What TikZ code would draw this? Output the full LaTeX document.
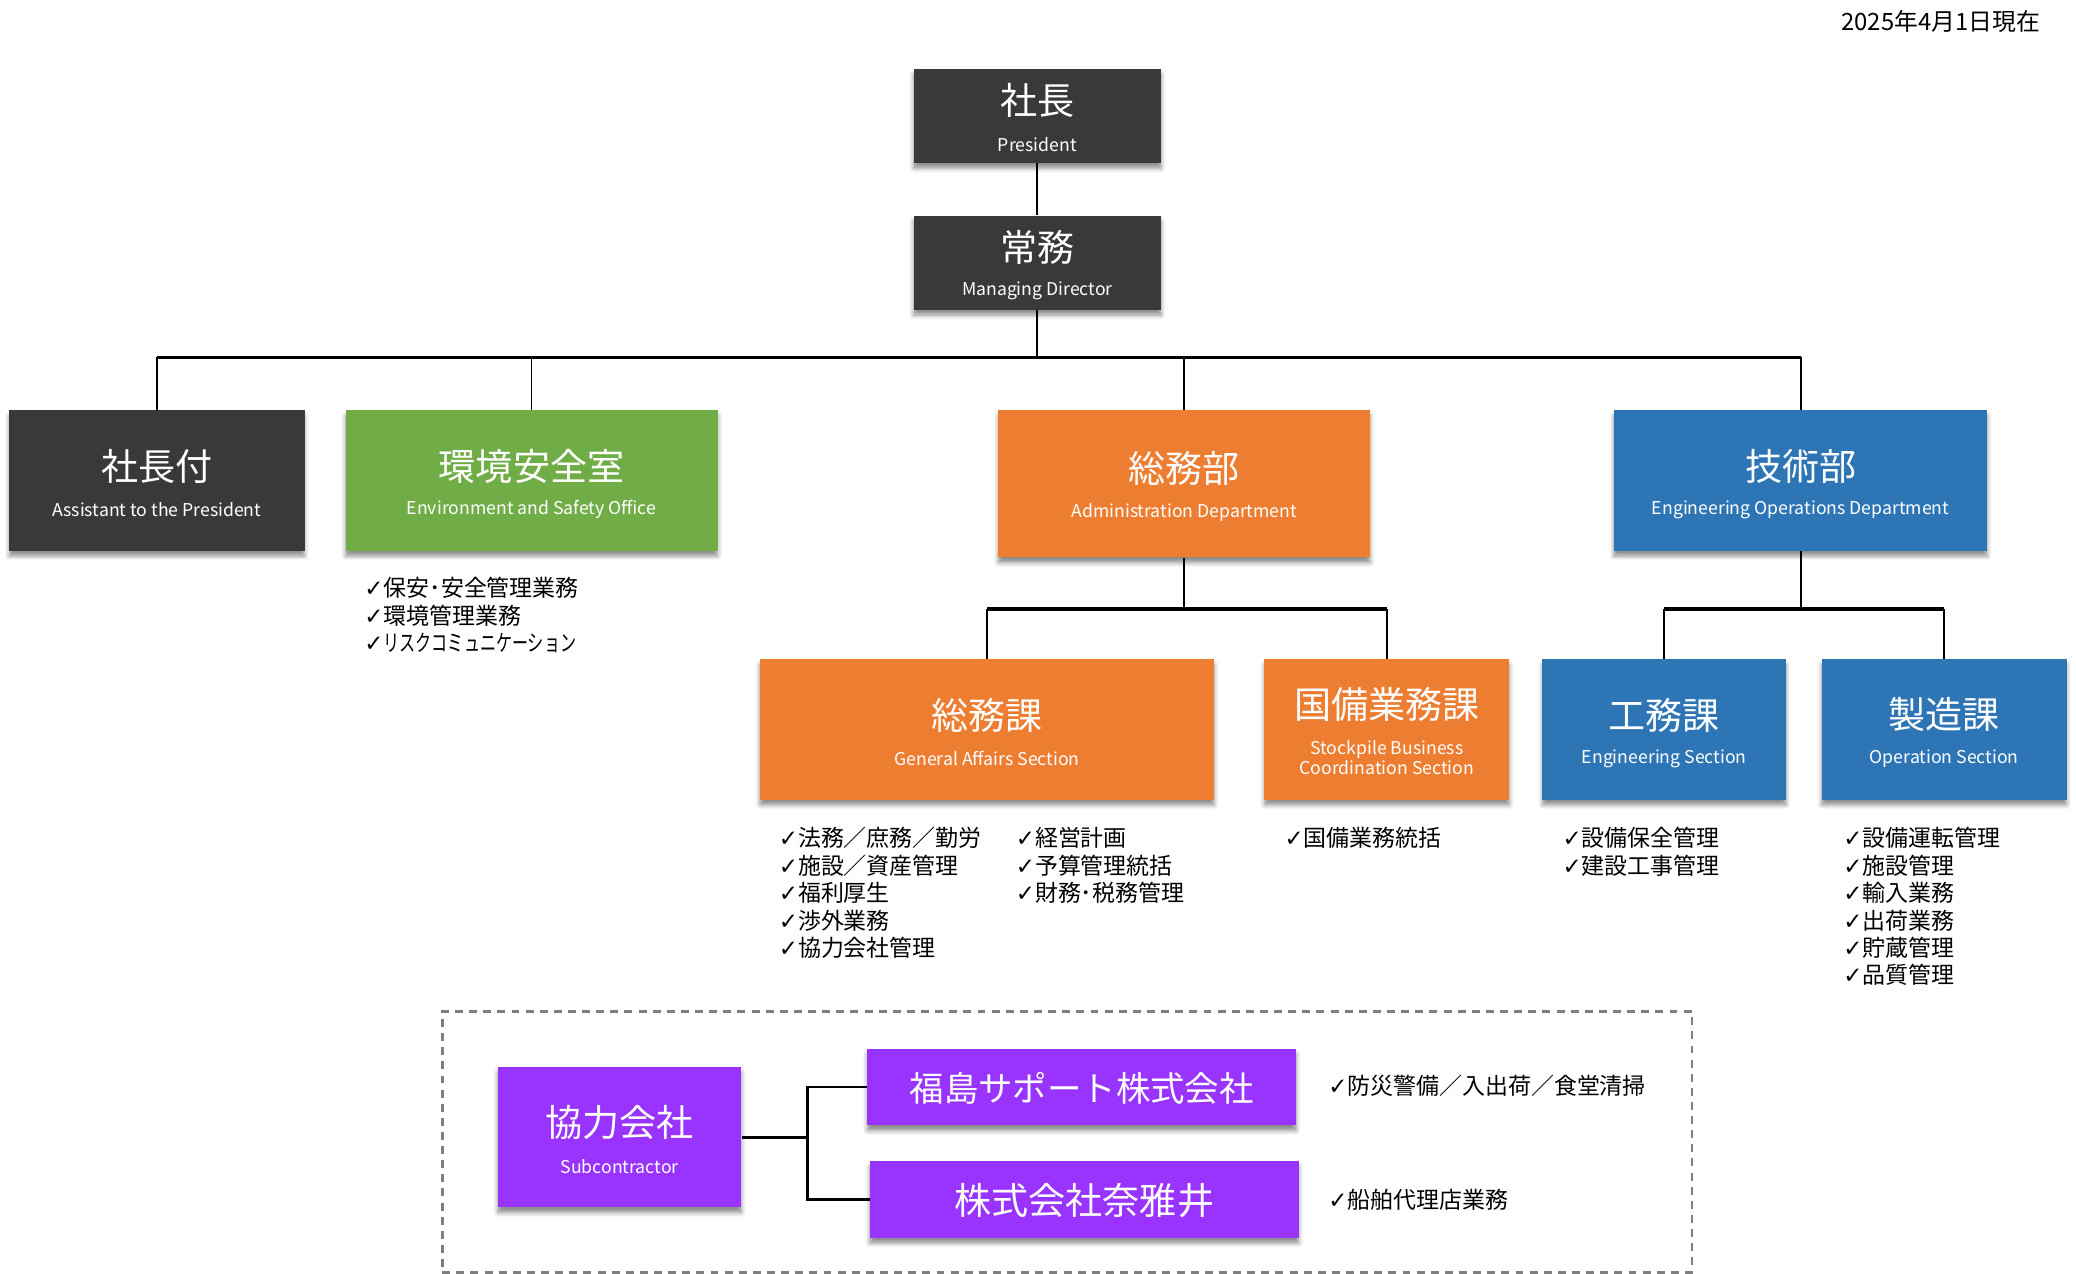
\documentclass[tikz,border=0pt]{standalone}
\usepackage{fontspec}
\usepackage{graphicx}
\setmainfont{Noto Sans CJK JP}
\newfontfamily\chkfont{DejaVu Sans}
\usetikzlibrary{shadows.blur}
\definecolor{cdark}{HTML}{3B3838}
\definecolor{cgreen}{HTML}{70AD47}
\definecolor{corange}{HTML}{ED7D31}
\definecolor{cblue}{HTML}{2E75B6}
\definecolor{cpurple}{HTML}{9933FF}
\definecolor{cframe}{HTML}{7F7F7F}
\newcommand\ckm{{\chkfont ✓}}
\tikzset{
  orgbox/.style={rectangle, inner sep=0pt, draw=none,
    blur shadow={shadow xshift=0pt, shadow yshift=-3pt, shadow blur radius=2.5pt, shadow opacity=45}},
  sz/.style 2 args={minimum width=#1*0.75pt, minimum height=#2*0.75pt},
  biglabel/.style={text=white, inner sep=0pt, font=\fontsize{21}{25}\selectfont},
  midlabel/.style={text=white, inner sep=0pt, font=\fontsize{19.5}{23}\selectfont},
  englabel/.style={text=white, inner sep=0pt, align=center, font=\fontsize{10}{11.25}\selectfont},
  item/.style={anchor=west, inner sep=0pt, font=\fontsize{13}{15}\selectfont},
  conn/.style={line width=1pt, black},
  busline/.style={line width=2pt, black},
  frameline/.style={draw=cframe, line width=1.5pt, dash pattern=on 4.5pt off 3.5pt}
}
\begin{document}
\begin{tikzpicture}[x=0.75pt,y=-0.75pt]
\useasboundingbox (0,0) rectangle (1568,962.2);

% date
\node[anchor=east, inner sep=0pt, font=\fontsize{13.5}{16}\selectfont] (date) at (1541,16) {2025年4月1日現在};

% boxes
\node[orgbox, fill=cdark, sz={187}{71}] (pres) at (783.5,87.5) {};
\node[orgbox, fill=cdark, sz={187}{71}] (md) at (783.5,198.5) {};
\node[orgbox, fill=cdark, sz={223}{106}] (asst) at (118.5,363) {};
\node[orgbox, fill=cgreen, sz={281}{106}] (env) at (401.5,363) {};
\node[orgbox, fill=corange, sz={281}{111}] (adm) at (894.5,365.5) {};
\node[orgbox, fill=cblue, sz={282}{106}] (tech) at (1360,363) {};
\node[orgbox, fill=corange, sz={343}{106}] (gas) at (745.5,551) {};
\node[orgbox, fill=corange, sz={185}{106}] (stock) at (1047.5,551) {};
\node[orgbox, fill=cblue, sz={184}{106}] (engs) at (1257,551) {};
\node[orgbox, fill=cblue, sz={185}{106}] (ops) at (1468.5,551) {};
\node[orgbox, fill=cpurple, sz={184}{106}] (subc) at (468,859) {};
\node[orgbox, fill=cpurple, sz={324}{58}] (fuku) at (817,821) {};
\node[orgbox, fill=cpurple, sz={324}{58}] (naga) at (819,906) {};

% frame
\node[frameline, rectangle, inner sep=0pt, sz={944}{197}] (grp) at (806,862.5) {};

% labels
\node[biglabel] (presj) at (783.5,76) {社長};
\node[englabel] (prese) at (783.5,109) {President};
\node[biglabel] (mdj) at (783.5,187) {常務};
\node[englabel] (mde) at (783.5,220) {Managing Director};
\node[biglabel] (asstj) at (118.5,352) {社長付};
\node[englabel] (asste) at (118.5,385) {Assistant to the President};
\node[biglabel] (envj) at (401.5,352) {環境安全室};
\node[englabel] (enve) at (401.5,385) {Environment and Safety Office};
\node[biglabel] (admj) at (894.5,354) {総務部};
\node[englabel] (adme) at (894.5,387) {Administration Department};
\node[biglabel] (techj) at (1360,352) {技術部};
\node[englabel] (teche) at (1360,385) {Engineering Operations Department};
\node[biglabel] (gasj) at (745.5,540) {総務課};
\node[englabel] (gase) at (745.5,573) {General Affairs Section};
\node[biglabel] (stockj) at (1047.5,532) {国備業務課};
\node[englabel] (stocke) at (1047.5,572.5) {Stockpile Business\\Coordination Section};
\node[biglabel] (engsj) at (1257,540) {工務課};
\node[englabel] (engse) at (1257,573) {Engineering Section};
\node[biglabel] (opsj) at (1468.5,540) {製造課};
\node[englabel] (opse) at (1468.5,573) {Operation Section};
\node[biglabel] (subcj) at (468,848) {協力会社};
\node[englabel] (subce) at (468,881) {Subcontractor};
\node[midlabel] (fukuj) at (817,822) {福島サポート株式会社};
\node[biglabel] (nagaj) at (819,907) {株式会社奈雅井};

% connectors
\coordinate (bus1) at (783.5,270);
\coordinate (bus2) at (894.5,460);
\coordinate (bus3) at (1360,460);
\coordinate (jn) at (610,859);
\draw[conn] (pres.south) -- (md.north);
\draw[conn] (md.south) -- (bus1);
\draw[busline] (asst.north |- bus1) -- (tech.north |- bus1);
\draw[conn] (asst.north) -- (asst.north |- bus1);
\draw[conn] (env.north) -- (env.north |- bus1);
\draw[conn] (adm.north) -- (adm.north |- bus1);
\draw[conn] (tech.north) -- (tech.north |- bus1);
\draw[conn] (adm.south) -- (bus2);
\draw[busline] (gas.north |- bus2) -- (stock.north |- bus2);
\draw[conn] (gas.north) -- (gas.north |- bus2);
\draw[conn] (stock.north) -- (stock.north |- bus2);
\draw[conn] (tech.south) -- (bus3);
\draw[busline] (engs.north |- bus3) -- (ops.north |- bus3);
\draw[conn] (engs.north) -- (engs.north |- bus3);
\draw[conn] (ops.north) -- (ops.north |- bus3);
\draw[line width=1.6pt] (subc.east) -- (jn);
\draw[line width=1.4pt] (fuku.west) -| (jn) |- (naga.west);

% item lists
\node[item] (envl0) at (275,444) {\ckm 保安･安全管理業務};
\node[item] (envl1) at (275,464.8) {\ckm 環境管理業務};
\node[item] (envl2) at (275,485.6) {\ckm\scalebox{0.7}[1]{リスクコミュニケーション}};
\foreach \t [count=\i from 0] in {法務／庶務／勤労, 施設／資産管理, 福利厚生, 渉外業務, 協力会社管理}
  \node[item] (gasa\i) at (588,633+20.7*\i) {\ckm\t};
\foreach \t [count=\i from 0] in {経営計画, 予算管理統括, 財務･税務管理}
  \node[item] (gasb\i) at (767,633+20.7*\i) {\ckm\t};
\node[item] (stockl0) at (970,633) {\ckm 国備業務統括};
\foreach \t [count=\i from 0] in {設備保全管理, 建設工事管理}
  \node[item] (engsl\i) at (1180,633+20.7*\i) {\ckm\t};
\foreach \t [count=\i from 0] in {設備運転管理, 施設管理, 輸入業務, 出荷業務, 貯蔵管理, 品質管理}
  \node[item] (opsl\i) at (1392,633+20.7*\i) {\ckm\t};
\node[item] (fukul) at (1003,820) {\ckm 防災警備／入出荷／食堂清掃};
\node[item] (nagal) at (1003,906) {\ckm 船舶代理店業務};
\end{tikzpicture}
\end{document}
